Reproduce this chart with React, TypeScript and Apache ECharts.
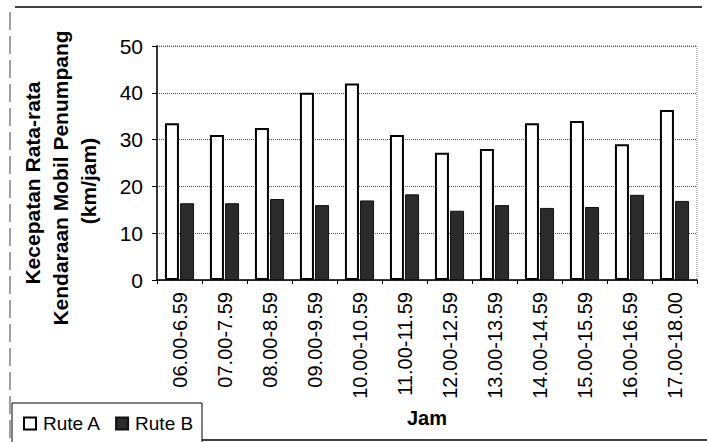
import React, { useEffect, useRef } from "react";
import * as echarts from "echarts";

const categories = [
  "06.00-6.59", "07.00-7.59", "08.00-8.59", "09.00-9.59", "10.00-10.59", "11.00-11.59",
  "12.00-12.59", "13.00-13.59", "14.00-14.59", "15.00-15.59", "16.00-16.59", "17.00-18.00",
];
const ruteA = [33.5, 31, 32.5, 40, 42, 31, 27.2, 28, 33.5, 34, 29, 36.3];
const ruteB = [16.4, 16.4, 17.3, 16, 17, 18.3, 14.8, 16, 15.4, 15.6, 18.2, 16.9];
const yTicks = { min: 0, max: 50, interval: 10 };

export default function App() {
  const ref = useRef<HTMLDivElement>(null);
  useEffect(() => {
    if (!ref.current) return;
    const chart = echarts.init(ref.current, null, { renderer: "svg" });
    const font = "'Liberation Sans', Arial, sans-serif";
    chart.setOption({
      animation: false,
      backgroundColor: "#fff",
      textStyle: { fontFamily: font },
      grid: {
        left: 157, right: 10, top: 46, bottom: 162,
        show: true, borderColor: "#777", borderWidth: 1, borderType: "dotted",
      },
      legend: {
        left: 18, top: 409, itemWidth: 12, itemHeight: 12, itemGap: 14,
        icon: "rect",
        textStyle: { fontFamily: font, fontSize: 19, color: "#000", padding: [0, 0, 0, 2] },
        data: ["Rute A", "Rute B"],
      },
      xAxis: {
        type: "category",
        data: categories,
        name: "Jam",
        nameLocation: "middle",
        nameGap: 128,
        nameTextStyle: { fontFamily: font, fontSize: 20, fontWeight: "bold", color: "#000" },
        axisLine: { lineStyle: { color: "#000", width: 1.5 } },
        axisTick: { show: true, length: 4, lineStyle: { color: "#000" } },
        axisLabel: { rotate: 90, fontSize: 20, color: "#000", margin: 12, fontFamily: font },
        splitLine: { show: false },
      },
      yAxis: {
        type: "value",
        min: yTicks.min, max: yTicks.max, interval: yTicks.interval,
        axisLine: { show: true, lineStyle: { color: "#000", width: 1.5 } },
        axisTick: { show: true, length: 5, lineStyle: { color: "#000" } },
        axisLabel: { fontSize: 21, color: "#000", margin: 14, fontFamily: font },
        splitLine: { show: true, lineStyle: { color: "#555", type: "dotted", width: 1 } },
      },
      series: [
        {
          name: "Rute A", type: "bar", data: ruteA, barWidth: 14, barGap: "8%",
          itemStyle: { color: "#fff", borderColor: "#000", borderWidth: 2 },
        },
        {
          name: "Rute B", type: "bar", data: ruteB, barWidth: 14,
          itemStyle: { color: "#2b2b2b", borderColor: "#111", borderWidth: 1 },
        },
      ],
      graphic: [
        { type: "line", shape: { x1: 15, y1: 7, x2: 702, y2: 7 }, style: { stroke: "#000", lineWidth: 1.5 } },
        { type: "line", shape: { x1: 10, y1: 12, x2: 10, y2: 442 }, style: { stroke: "#444", lineWidth: 1, lineDash: [18, 6] } },
        { type: "line", shape: { x1: 202, y1: 440, x2: 707, y2: 440 }, style: { stroke: "#000", lineWidth: 1.5 } },
        { type: "rect", shape: { x: 12, y: 403, width: 190, height: 45 }, style: { fill: "none", stroke: "#000", lineWidth: 1 } },
        {
          type: "text", x: 32, y: 183, rotation: Math.PI / 2,
          style: { text: "Kecepatan Rata-rata", font: `bold 21px ${font}`, fill: "#000", align: "center", verticalAlign: "middle" },
        },
        {
          type: "text", x: 60, y: 178, rotation: Math.PI / 2,
          style: { text: "Kendaraan Mobil Penumpang", font: `bold 21px ${font}`, fill: "#000", align: "center", verticalAlign: "middle" },
        },
        {
          type: "text", x: 88, y: 181, rotation: Math.PI / 2,
          style: { text: "(km/jam)", font: `bold 21px ${font}`, fill: "#000", align: "center", verticalAlign: "middle" },
        },
      ],
    });
    return () => chart.dispose();
  }, []);
  return <div ref={ref} style={{ width: 707, height: 442, position: "absolute", left: 0, top: 0 }} />;
}
